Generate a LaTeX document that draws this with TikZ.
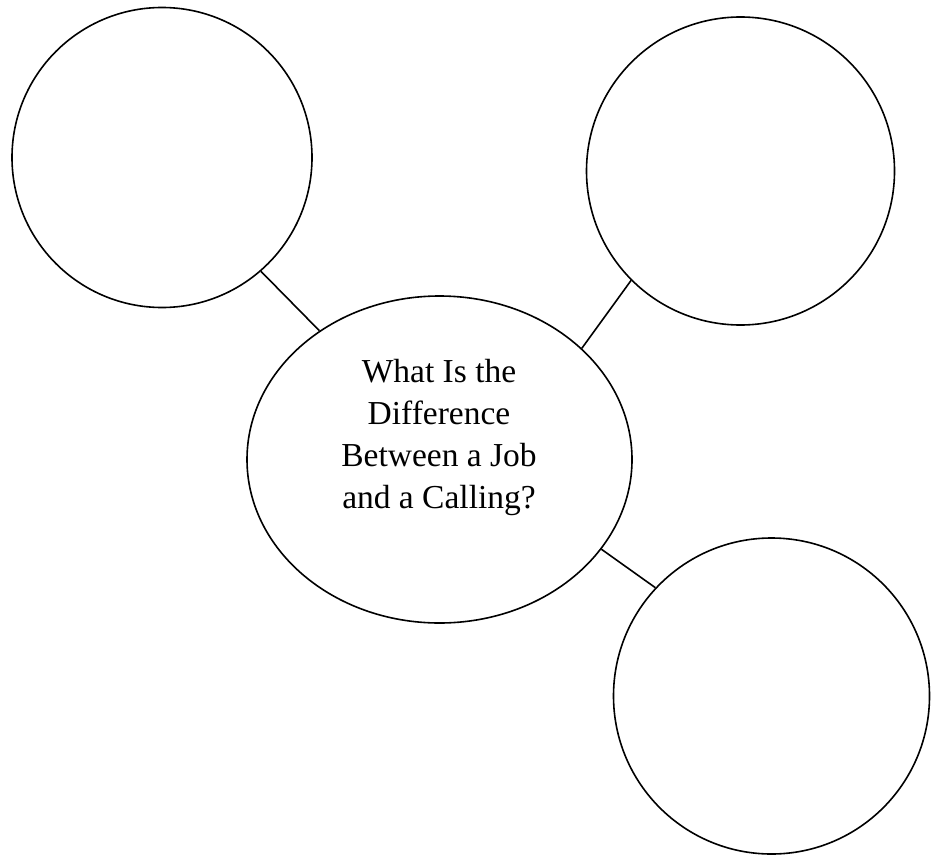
\documentclass[tikz,border=0pt]{standalone}
\usepackage{fontspec}
\setmainfont{Liberation Serif}
\usetikzlibrary{shapes.geometric}
\begin{document}
\begin{tikzpicture}[x=1pt,y=1pt,
  bubble/.style={draw=black,line width=1.6pt,circle,inner sep=0pt},
  hub/.style={draw=black,line width=1.6pt,ellipse,inner sep=0pt,minimum width=385pt,minimum height=327pt},
  link/.style={draw=black,line width=1.6pt},
  title/.style={align=center,font=\fontsize{33.5}{42}\selectfont,inner sep=0pt}]
\useasboundingbox[fill=white] (0,0) rectangle (933,-856);
\node[bubble,minimum size=300pt] (tl) at (162,-157.5) {};
\node[bubble,minimum size=308pt] (tr) at (740.5,-171) {};
\node[bubble,minimum size=316pt] (br) at (771.5,-696) {};
\node[hub] (c) at (439.5,-459.5) {};
\node[title] (q) at (439,-437) {What Is the\\Difference\\Between a Job\\and a Calling?};
\draw[link] (tl.-49) -- (c.133);
\draw[link] (tr.225.6) -- (c.38.6);
\draw[link] (br.137.7) -- (c.-29.2);
\end{tikzpicture}
\end{document}
